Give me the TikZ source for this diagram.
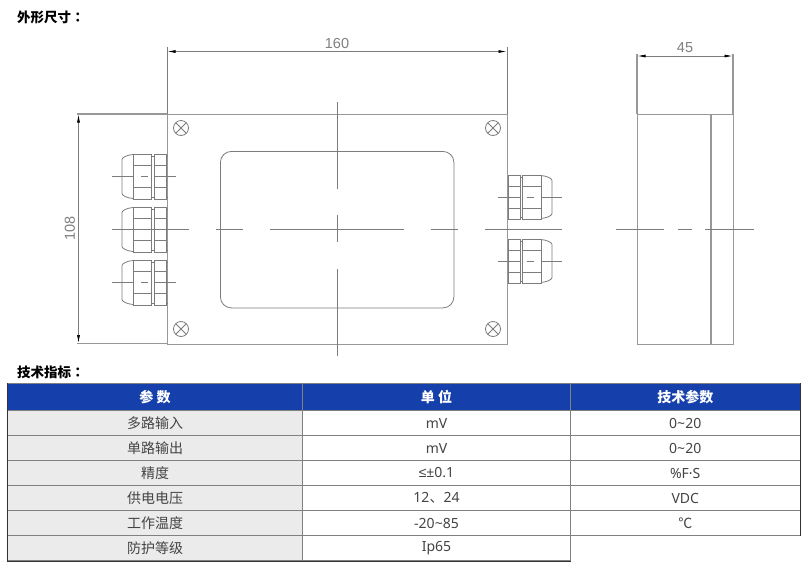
\documentclass[tikz,border=0pt]{standalone}
\usepackage{fontspec}
\setmainfont{Noto Sans CJK SC}
\newfontfamily\dimfont{Liberation Sans}
\newfontfamily\cellfont{Noto Sans CJK SC}
\newfontfamily\latinfont{Noto Sans}
\newfontfamily\tcfont{Noto Sans CJK TC}
\usetikzlibrary{arrows.meta}
\definecolor{cad}{HTML}{7C7C7C}
\definecolor{cadthick}{HTML}{989898}
\definecolor{hdr}{HTML}{1540AC}
\definecolor{rowgray}{HTML}{EBEBEB}
\definecolor{grid}{HTML}{808080}
\definecolor{edge}{HTML}{333333}
\definecolor{celltext}{HTML}{444444}
\definecolor{dimgray}{HTML}{808080}
\tikzset{
  outline/.style={draw=cadthick,line width=1.1pt},
  thin cad/.style={draw=cad,line width=.8pt},
  centre/.style={draw=cad,line width=.8pt},
  dimline/.style={draw=cad,line width=.7pt,{Latex[length=8pt,width=3pt,black]}-{Latex[length=8pt,width=3pt,black]}},
  dimtext/.style={text=dimgray,font=\dimfont\fontsize{14.5}{14.5}\selectfont,inner sep=0pt},
  heading/.style={anchor=west,inner sep=0pt,font=\bfseries\fontsize{13.5}{13.5}\selectfont,text=black},
  cell/.style={draw=grid,line width=1pt,anchor=north west,inner sep=0pt,text=celltext,font=\cellfont\fontsize{14}{14}\selectfont},
  head/.style={cell,fill=hdr,text=white,font=\cellfont\bfseries\fontsize{14}{14}\selectfont},
  label/.style={cell,fill=rowgray},
  gland left/.pic={
    \draw[thin cad] (11,-22.5) rectangle (29,22.5);
    \draw[thin cad] (32.5,-22.5) rectangle (44,22.5);
    \draw[thin cad] (44,-20.5) -- (45.5,-20.5) (44,20.5) -- (45.5,20.5) (29,-20.5) -- (32.5,-20.5) (29,20.5) -- (32.5,20.5);
    \draw[thin cad] (11,-11) -- (29,-11) (11,11) -- (29,11) (32.5,-11) -- (44,-11) (32.5,11) -- (44,11);
    \draw[thin cad] (11,-22) .. controls (5,-21.5) and (0,-19) .. (0,-17) -- (0,17) .. controls (0,19) and (5,21.5) .. (11,22);
    \draw[centre] (19,0) -- (26,0);
  },
  gland right/.pic={
    \draw[thin cad] (15,-22) rectangle (34,22);
    \draw[thin cad] (1,-22) rectangle (13,22);
    \draw[thin cad] (13,-20) -- (15,-20) (13,20) -- (15,20);
    \draw[thin cad] (15,-10.5) -- (34,-10.5) (15,11) -- (34,11) (1,-10.5) -- (13,-10.5) (1,11) -- (13,11);
    \draw[thin cad] (34,-21.5) .. controls (39,-21) and (45,-19) .. (45,-16.5) -- (45,16.5) .. controls (45,19) and (39,21) .. (34,21.5);
    \draw[centre] (20,0) -- (26.5,0);
  },
  screw/.style={circle,draw=cad,line width=.8pt,minimum size=15pt,inner sep=0pt,path picture={
    \draw[cad,line width=.8pt] (path picture bounding box.south west) -- (path picture bounding box.north east)
      (path picture bounding box.north west) -- (path picture bounding box.south east);}},
}
\begin{document}
\begin{tikzpicture}[x=1pt,y=-1pt]
\useasboundingbox[fill=white] (0,0) rectangle (809,566);
% headings
\node[heading] (t1) at (17,17) {外形尺寸{\tcfont ：}};
\node[heading] (t2) at (17,372) {技术指标{\tcfont ：}};
% front view
\coordinate (a) at (167,114); \coordinate (b) at (507,114);
\coordinate (c) at (507,343.5); \coordinate (d) at (167,343.5);
\node[outline,draw,rectangle,inner sep=0pt,minimum width=340pt,minimum height=229.5pt,anchor=north west] (box) at (a) {};
\node[thin cad,draw,rounded corners=11pt,inner sep=0pt,minimum width=233.5pt,minimum height=156.5pt,anchor=north west] (window) at (220,151) {};
\node[screw] (s1) at (181,128) {};
\node[screw] (s2) at (493,128) {};
\node[screw] (s3) at (181,329) {};
\node[screw] (s4) at (493,329) {};
% extension lines
\coordinate (e1) at (77,114); \coordinate (e2) at (77,343.5);
\coordinate (e3) at (167,47); \coordinate (e4) at (507,47);
\draw[outline] (e1) -- (a) (e2) -- (d);
\draw[thin cad] (e3) -- (a) (e4) -- (b);
% dimensions
\coordinate (d1) at (78.5,114.5); \coordinate (d2) at (78.5,343);
\coordinate (d3) at (167.5,51.5); \coordinate (d4) at (506.5,51.5);
\draw[dimline] (d1) -- (d2);
\draw[dimline] (d3) -- (d4);
\node[dimtext] (w) at (337,44) {160};
\node[dimtext,rotate=90] (h) at (70,228.5) {108};
% centre lines
\draw[centre] (337,102) -- (337,189) (337,215) -- (337,242) (337,269) -- (337,356);
\draw[centre] (112,229) -- (189,229) (216,229) -- (243,229) (270,229) -- (404,229) (431,229) -- (458,229) (485,229) -- (562,229);
% left glands
\pic at (122,176.5) {gland left};
\pic at (122,229.5) {gland left};
\pic at (122,282.5) {gland left};
\draw[centre] (112,176) -- (133,176) (154,176) -- (176,176);
\draw[centre] (112,282) -- (133,282) (154,282) -- (176,282);
% right glands
\pic at (507,197) {gland right};
\pic at (507,261) {gland right};
\draw[centre] (498,197) -- (520,197) (541,197) -- (562,197);
\draw[centre] (498,261) -- (520,261) (541,261) -- (562,261);
% side view
\coordinate (f) at (637,114); \coordinate (g) at (733,114);
\node[outline,draw,rectangle,inner sep=0pt,minimum width=96pt,minimum height=229.5pt,anchor=north west] (side) at (f) {};
\coordinate (i1) at (711,114); \coordinate (i2) at (711,343.5);
\draw[outline] (i1) -- (i2);
\coordinate (e5) at (637,54); \coordinate (e6) at (733,54);
\draw[outline] (e5) -- (f) (e6) -- (g);
\coordinate (d5) at (637.5,56); \coordinate (d6) at (732.5,56);
\draw[dimline] (d5) -- (d6);
\node[dimtext] (t45) at (685,47.5) {45};
\draw[centre] (616,229) -- (664,229) (678,229) -- (692,229) (705,229) -- (754,229);
% table
\def\hA{27pt}\def\hB{25pt}
\tikzset{c1/.style={minimum width=295pt},c2/.style={minimum width=268pt},c3/.style={minimum width=229.5pt}}
\node[head,c1,minimum height=\hA] (h1) at (7,383) {参 数};
\node[head,c2,minimum height=\hA] (h2) at (302,383) {单 位};
\node[head,c3,minimum height=\hA] (h3) at (570,383) {技术参数};
\foreach \y/\n/\p/\q/\r in {
  410/1/多路输入/{\latinfont mV}/{\latinfont 0\textasciitilde 20},
  435/2/单路输出/{\latinfont mV}/{\latinfont 0\textasciitilde 20},
  460/3/精度/{{\dimfont ≤}\latinfont ±0.1}/{\latinfont \%F·S},
  485/4/供电电压/{\latinfont 12}、{\latinfont 24}/{\latinfont VDC},
  510/5/工作温度/{\latinfont -20\textasciitilde 85}/℃}{
  \node[label,c1,minimum height=\hB] (l\n) at (7,\y) {\p};
  \node[cell,c2,minimum height=\hB] (u\n) at (302,\y) {\q};
  \node[cell,c3,minimum height=\hB] (v\n) at (570,\y) {\r};
}
\node[label,c1,minimum height=\hB] (l6) at (7,535) {防护等级};
\node[cell,c2,minimum height=\hB] (u6) at (302,535) {\latinfont Ip65};
% dark outer edges
\draw[edge,line width=1pt] (h1.north west) -- (l6.south west) -- (u6.south east);
\draw[edge,line width=1pt] (h3.north east) -- (v5.south east);
\end{tikzpicture}
\end{document}
